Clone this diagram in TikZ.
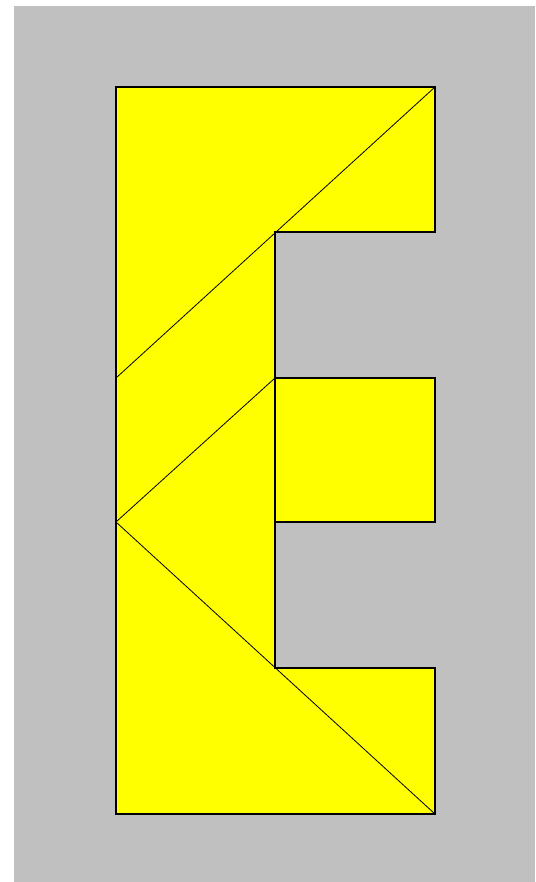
\documentclass[tikz,border=0pt]{standalone}
\definecolor{bggrey}{HTML}{C0C0C0}
\definecolor{piece}{HTML}{FFFF00}
\tikzset{outline/.style={draw=black,line width=1.1pt,line join=miter},
  cut/.style={draw=black,line width=0.8pt}}
\begin{document}
\begin{tikzpicture}[x=1pt,y=-1pt]
\useasboundingbox (0,0) rectangle (535,882);
\fill[white] (0,0) rectangle (535,882);
\fill[bggrey] (14,6) rectangle (535,882);
\filldraw[fill=piece,outline] (116,87) -- (435,87) -- (435,232) -- (275,232) -- (275,378) -- (435,378) -- (435,522) -- (275,522) -- (275,668) -- (435,668) -- (435,814) -- (116,814) -- cycle;
\draw[cut] (435,87) -- (116,378);
\draw[cut] (116,522) -- (275,378);
\draw[cut] (116,522) -- (435,814);
\draw[outline] (275,232) -- (275,668);
\end{tikzpicture}
\end{document}
